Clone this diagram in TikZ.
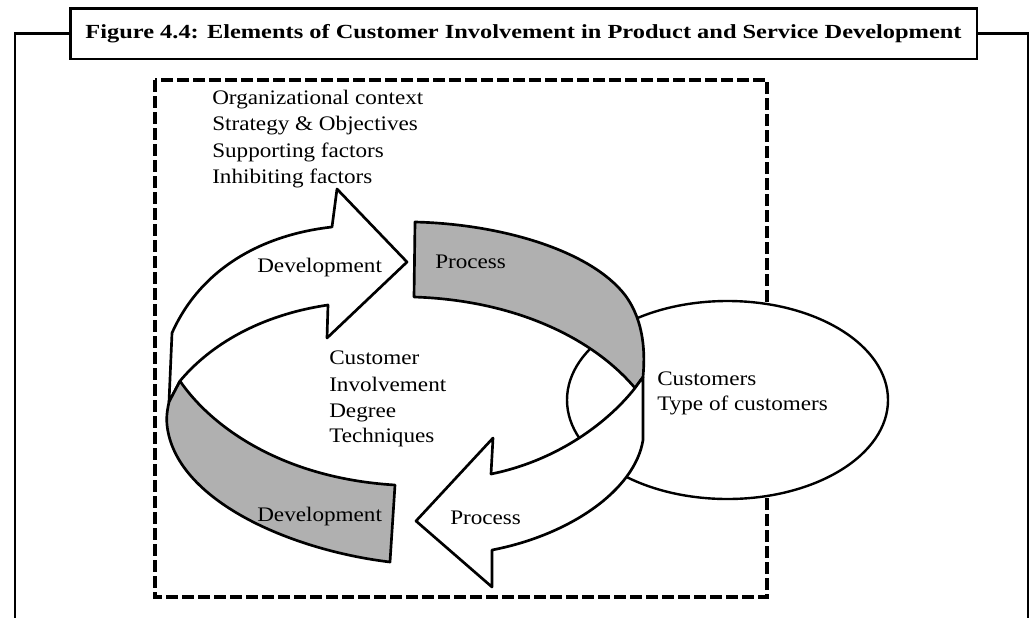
\documentclass[tikz,border=0pt]{standalone}
\usepackage{fontspec}
\setmainfont{Liberation Serif}[FakeStretch=1.12]
\newfontfamily\headfont{Liberation Serif}[FakeStretch=1.22]
\usetikzlibrary{shapes.geometric}
\definecolor{bandgray}{RGB}{176,176,176}
\tikzset{
  lbl/.style={font=\fontsize{15.5}{19.7}\selectfont, inner sep=0pt, anchor=base west},
  band/.style={draw, line width=2pt, line join=round},
}

\begin{document}
\begin{tikzpicture}[x=0.75pt,y=-0.75pt]
	\useasboundingbox (0,0) rectangle (1034,618);

	%TITLE AND FRAME
	\node[draw, line width=2pt, fill=white, minimum width=680pt, minimum height=38pt, inner sep=0pt, font=\headfont\bfseries\fontsize{15}{18}\selectfont] (title) at (523.5,33.5) {Figure 4.4: Elements of Customer Involvement in Product and Service Development};
	\draw[line width=2pt] (title.west) -- (15,33.5) -- (15,618);
	\draw[line width=2pt] (title.east) -- (1028,33.5) -- (1028,618);

	%DASHED BOX
	\draw[line width=2.4pt, dash pattern=on 9pt off 3pt] (155,80) rectangle (767,597);

	%CUSTOMERS ELLIPSE
	\node[ellipse, draw, line width=1.8pt, fill=white, minimum width=240.75pt, minimum height=148.5pt, inner sep=0pt] (cust) at (727.5,400) {};

	%TOP LEFT ARROW
	\filldraw[band, fill=white] (169,402) -- (172,333) .. controls (200,270) and (260,235) .. (332,227) -- (337,189) -- (407,262) -- (327,338) -- (328,305) .. controls (260,315) and (210,345) .. (180,381) -- cycle;

	%BOTTOM LEFT BAND
	\filldraw[band, fill=bandgray] (180,381) .. controls (210,425) and (280,478) .. (395,485) -- (390,562) .. controls (290,550) and (175,500) .. (167,425) .. controls (166,415) and (168,407) .. (169,402) -- cycle;

	%TOP RIGHT BAND
	\filldraw[band, fill=bandgray] (415,222) .. controls (500,224) and (590,250) .. (625,295) .. controls (645,322) and (645,355) .. (643,377) -- (635,388) .. controls (590,335) and (510,300) .. (414,297) -- cycle;

	%BOTTOM RIGHT ARROW
	\filldraw[band, fill=white] (643,377) -- (643,440) .. controls (635,490) and (570,535) .. (492,550) -- (492,587) -- (416,521) -- (493,438) -- (491,474) .. controls (560,460) and (610,420) .. (635,388) -- cycle;

	%CONTEXT TEXT
	\node[lbl] (org) at (212,104) {Organizational context};
	\node[lbl] (strat) at (212,130.5) {Strategy \& Objectives};
	\node[lbl] (supp) at (212,157) {Supporting factors};
	\node[lbl] (inhib) at (212,183) {Inhibiting factors};

	%RING TEXT
	\node[lbl] (devtop) at (257,272) {Development};
	\node[lbl] (proctop) at (435,268) {Process};
	\node[lbl] (devbot) at (257,521) {Development};
	\node[lbl] (procbot) at (450,524) {Process};

	%CENTRE TEXT
	\node[lbl] (cust1) at (329,364) {Customer};
	\node[lbl] (cust2) at (329,391) {Involvement};
	\node[lbl] (cust3) at (329,417) {Degree};
	\node[lbl] (cust4) at (329,442) {Techniques};

	%ELLIPSE TEXT
	\node[lbl] (custa) at (657,385) {Customers};
	\node[lbl] (custb) at (657,410) {Type of customers};
\end{tikzpicture}
\end{document}
